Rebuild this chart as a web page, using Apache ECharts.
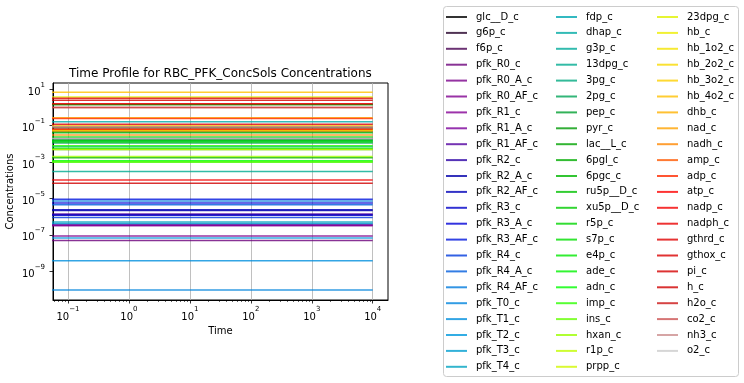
<!DOCTYPE html>
<html>
<head>
<meta charset="utf-8">
<script src="https://cdn.jsdelivr.net/npm/echarts@6/dist/echarts.min.js"></script>
<style>
  html, body { margin: 0; padding: 0; background: #fff; }
  #chart { width: 744px; height: 383px; }
</style>
</head>
<body>
<div id="chart"></div>
<script>
// time points of the simulation (line start is clipped at the left edge)
var timePoints = [0.05, 10000];

// legend column 1
var speciesCol1 = ['glc__D_c', 'g6p_c', 'f6p_c', 'pfk_R0_c', 'pfk_R0_A_c', 'pfk_R0_AF_c',
	'pfk_R1_c', 'pfk_R1_A_c', 'pfk_R1_AF_c', 'pfk_R2_c', 'pfk_R2_A_c', 'pfk_R2_AF_c',
	'pfk_R3_c', 'pfk_R3_A_c', 'pfk_R3_AF_c', 'pfk_R4_c', 'pfk_R4_A_c', 'pfk_R4_AF_c',
	'pfk_T0_c', 'pfk_T1_c', 'pfk_T2_c', 'pfk_T3_c', 'pfk_T4_c'];
var concCol1 = [1.5, 0.0486, 0.0198, 5.0e-8, 8.7e-8, 3.4e-7,
	3.2e-7, 3.7e-7, 1.4e-6, 1.3e-6, 2.2e-6, 2.4e-6,
	1.2e-6, 5.6e-6, 9.1e-6, 8.9e-7, 4.6e-6, 7.2e-6,
	9.3e-11, 3.8e-9, 6.8e-8, 4.2e-7, 5.1e-7];

// legend column 2
var speciesCol2 = ['fdp_c', 'dhap_c', 'g3p_c', '13dpg_c', '3pg_c', '2pg_c', 'pep_c', 'pyr_c',
	'lac__L_c', '6pgl_c', '6pgc_c', 'ru5p__D_c', 'xu5p__D_c', 'r5p_c', 's7p_c', 'e4p_c',
	'ade_c', 'adn_c', 'imp_c', 'ins_c', 'hxan_c', 'r1p_c', 'prpp_c'];
var concCol2 = [0.0146, 0.166, 0.0073, 0.0003, 0.0773, 0.0113, 0.017, 0.06,
	1.4, 0.00175, 0.0412, 0.0049, 0.0148, 0.0127, 0.024, 0.0057,
	0.001, 0.0012, 0.0079, 0.001, 0.002, 0.06, 0.005];

// legend column 3
var speciesCol3 = ['23dpg_c', 'hb_c', 'hb_1o2_c', 'hb_2o2_c', 'hb_3o2_c', 'hb_4o2_c', 'dhb_c',
	'nad_c', 'nadh_c', 'amp_c', 'adp_c', 'atp_c', 'nadp_c', 'nadph_c', 'gthrd_c', 'gthox_c',
	'pi_c', 'h_c', 'h2o_c', 'co2_c', 'nh3_c', 'o2_c'];
var concCol3 = [3.8, 0.0596, 0.0504, 0.0991, 0.0604, 6.84, 0.275,
	0.0589, 0.0313, 0.0867, 0.245, 1.6, 0.000104, 0.0658, 3.2, 0.12,
	2.5, 6.9e-5, 1.0, 1.0, 0.091, 0.02];

// tick labels
var xTicks = [0.1, 1, 10, 100, 1000, 10000];
var yTicks = [10, 0.1, 1e-3, 1e-5, 1e-7, 1e-9];

var allNames = speciesCol1.concat(speciesCol2, speciesCol3);
var allConc = concCol1.concat(concCol2, concCol3);

// nipy_spectral colormap control points
var cmapStops = [0, 0.05, 0.10, 0.15, 0.20, 0.25, 0.30, 0.35, 0.40, 0.45, 0.50,
	0.55, 0.60, 0.65, 0.70, 0.75, 0.80, 0.85, 0.90, 0.95, 1.0];
var cmapR = [0, 0.4667, 0.5333, 0, 0, 0, 0, 0, 0, 0, 0, 0, 0, 0.7333, 0.9333, 1, 1, 1, 0.8667, 0.8, 0.8];
var cmapG = [0, 0, 0, 0, 0, 0.4667, 0.6, 0.6667, 0.6667, 0.6, 0.7333, 0.8667, 1, 1, 0.9333, 0.8, 0.6, 0, 0, 0, 0.8];
var cmapB = [0, 0.5333, 0.6, 0.6667, 0.8667, 0.8667, 0.8667, 0.6667, 0.5333, 0, 0, 0, 0, 0, 0, 0, 0, 0, 0, 0, 0.8];

function cmapChannel(arr, t){
	for (var i = 0; i < cmapStops.length - 1; i++){
		if (t <= cmapStops[i + 1]){
			var f = (t - cmapStops[i]) / (cmapStops[i + 1] - cmapStops[i]);
			return arr[i] + f * (arr[i + 1] - arr[i]);
		}
	}
	return arr[arr.length - 1];
}
function nipySpectral(t){
	var r = Math.round(cmapChannel(cmapR, t) * 255);
	var g = Math.round(cmapChannel(cmapG, t) * 255);
	var b = Math.round(cmapChannel(cmapB, t) * 255);
	return 'rgba(' + r + ',' + g + ',' + b + ',0.8)';
}

var series = [];
for (var i = 0; i < allNames.length; i++){
	var pts = [];
	for (var j = 0; j < timePoints.length; j++){
		pts.push([timePoints[j], allConc[i]]);
	}
	series.push({
		name: allNames[i],
		type: 'line',
		symbol: 'none',
		silent: true,
		animation: false,
		color: nipySpectral(i / (allNames.length - 1)),
		lineStyle: { width: 1.5 },
		data: pts
	});
}

// minor ticks on the time axis (2..9 in each decade)
var xMinMin = 0.0568, xMax = 17800;
var xMinorTicks = [];
for (var k = -2; k <= 4; k++){
	for (var m = 2; m <= 9; m++){
		var v = m * Math.pow(10, k);
		if (v > xMinMin && v < xMax) xMinorTicks.push(v);
	}
}

function powLabel(v){
	var e = Math.round(Math.log10(v));
	return '{b|10}{s|' + (e < 0 ? '\u2212' + (-e) : e) + '}';
}
var labelRich = {
	b: { fontSize: 10, fontFamily: 'DejaVu Sans', color: '#000', lineHeight: 16, verticalAlign: 'bottom' },
	s: { fontSize: 7, fontFamily: 'DejaVu Sans', color: '#000', lineHeight: 8, verticalAlign: 'top' }
};

function legendCol(names, left){
	return {
		data: names,
		orient: 'vertical',
		left: left,
		top: 11,
		padding: 0,
		icon: 'rect',
		itemWidth: 21,
		itemHeight: 2,
		itemGap: 3.9,
		selectedMode: false,
		textStyle: { fontSize: 10, fontFamily: 'DejaVu Sans', color: '#000', lineHeight: 12, padding: [0, 0, 0, 4] }
	};
}

var chart = echarts.init(document.getElementById('chart'));
chart.setOption({
	animation: false,
	backgroundColor: '#fff',
	title: {
		text: 'Time Profile for RBC_PFK_ConcSols Concentrations',
		left: 69,
		top: 68,
		padding: 0,
		textStyle: { fontSize: 12, fontWeight: 'normal', fontFamily: 'DejaVu Sans', color: '#000' }
	},
	grid: {
		left: 53, right: 356, top: 83, bottom: 83,
		show: true, borderColor: '#000', borderWidth: 1, backgroundColor: 'transparent'
	},
	legend: [legendCol(speciesCol1, 446), legendCol(speciesCol2, 556), legendCol(speciesCol3, 657)],
	graphic: [{
		type: 'rect',
		shape: { x: 443.5, y: 6.5, width: 295, height: 370, r: 3 },
		style: { fill: 'rgba(255,255,255,0.8)', stroke: '#cccccc', lineWidth: 1 },
		z: -1
	}],
	xAxis: [{
		type: 'log',
		logBase: 10,
		min: xMinMin,
		max: xMax,
		name: 'Time',
		nameLocation: 'middle',
		nameGap: 22,
		nameTextStyle: { fontSize: 10, fontFamily: 'DejaVu Sans', color: '#000' },
		axisLine: { lineStyle: { color: '#000', width: 1 } },
		axisTick: { length: 3.5, lineStyle: { color: '#000', width: 0.8 }, customValues: xTicks },
		axisLabel: { customValues: xTicks, margin: 6, formatter: powLabel, rich: labelRich },
		splitLine: { show: true, lineStyle: { color: '#b0b0b0', width: 0.8 } },
		minorTick: { show: false }
	}, {
		type: 'log',
		logBase: 10,
		min: xMinMin,
		max: xMax,
		position: 'bottom',
		axisLine: { show: false },
		axisTick: { length: 2, lineStyle: { color: '#000', width: 0.6 }, customValues: xMinorTicks },
		axisLabel: { show: false },
		splitLine: { show: false }
	}],
	yAxis: {
		type: 'log',
		logBase: 10,
		min: 2.65e-11,
		max: 22.2,
		name: 'Concentrations',
		nameLocation: 'middle',
		nameGap: 38,
		nameTextStyle: { fontSize: 10, fontFamily: 'DejaVu Sans', color: '#000' },
		axisLine: { lineStyle: { color: '#000', width: 1 } },
		axisTick: { length: 3.5, lineStyle: { color: '#000', width: 0.8 }, customValues: yTicks },
		axisLabel: { customValues: yTicks, margin: 8, formatter: powLabel, rich: labelRich },
		splitLine: { show: false },
		minorTick: { show: false }
	},
	series: series
});
</script>
</body>
</html>
